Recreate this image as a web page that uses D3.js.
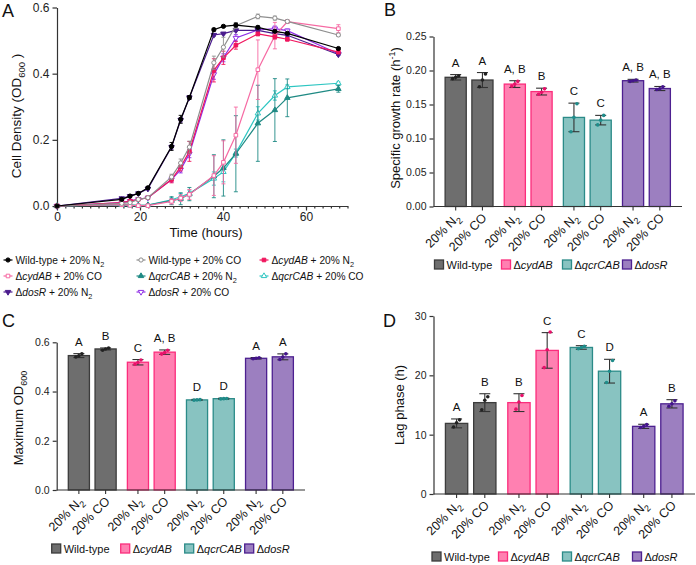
<!DOCTYPE html>
<html>
<head>
<meta charset="utf-8">
<script src="https://cdn.jsdelivr.net/npm/d3@7"></script>
<style>
    body { margin: 0; background: #fff; }
    svg { font-family: "Liberation Sans", Arial, sans-serif; }
    .axis path, .axis line { stroke: #333; stroke-width: 1.2; }
    .axis text { fill: #222; }
</style>
</head>
<body>
<div id="chart"></div>
<script>
    // ---- panel A: growth curves ----
    var times = [0, 15.6, 17.6, 19.6, 21.9, 27.6, 29.8, 31.9, 37.8, 40.1, 43.1, 48.4, 52.5, 55.5, 67.8];

    var wtN2 = [0, 0.020, 0.030, 0.038, 0.055, 0.180, 0.262, 0.328, 0.533, 0.543, 0.547, 0.540, 0.528, 0.522, 0.476];
    var wtN2Err = [0, 0.003, 0.003, 0.003, 0.004, 0.012, 0.012, 0.006, 0.004, 0.003, 0.006, 0.004, 0.003, 0.003, 0.003];
    var wtCO = [0, 0.008, 0.010, 0.020, 0.025, 0.088, 0.130, 0.178, 0.433, 0.480, 0.545, 0.573, 0.568, 0.558, 0.517];
    var wtCOErr = [0, 0.002, 0.002, 0.003, 0.003, 0.008, 0.012, 0.018, 0.020, 0.030, 0.008, 0.007, 0.006, 0.004, 0.004];
    var cydN2 = [0, 0.010, 0.015, 0.020, 0.025, 0.080, 0.118, 0.165, 0.410, 0.448, 0.486, 0.520, 0.511, 0.504, 0.465];
    var cydN2Err = [0, 0.003, 0.003, 0.003, 0.003, 0.010, 0.012, 0.030, 0.035, 0.020, 0.012, 0.005, 0.006, 0.005, 0.004];
    var cydCO = [0, 0.004, 0.002, 0.001, 0.001, 0.014, 0.024, 0.035, 0.092, 0.132, 0.214, 0.412, 0.515, 0.557, 0.536];
    var cydCOErr = [0, 0.002, 0.002, 0.002, 0.002, 0.008, 0.010, 0.015, 0.060, 0.065, 0.085, 0.090, 0.040, 0.005, 0.012];
    var qcrN2 = [0, 0.004, 0.003, 0.002, 0.003, 0.016, 0.022, 0.036, 0.090, 0.115, 0.158, 0.250, 0.290, 0.327, 0.354];
    var qcrN2Err = [0, 0.002, 0.002, 0.002, 0.002, 0.012, 0.018, 0.020, 0.065, 0.085, 0.115, 0.115, 0.095, 0.057, 0.010];
    var qcrCO = [0, 0.003, 0.002, 0.002, 0.003, 0.019, 0.028, 0.038, 0.083, 0.103, 0.160, 0.280, 0.334, 0.360, 0.371];
    var qcrCOErr = [0, 0.002, 0.002, 0.002, 0.002, 0.006, 0.010, 0.010, 0.020, 0.030, 0.012, 0.020, 0.014, 0.006, 0.004];
    var dosN2 = [0, 0.023, 0.030, 0.038, 0.052, 0.178, 0.260, 0.328, 0.517, 0.521, 0.531, 0.531, 0.521, 0.516, 0.458];
    var dosN2Err = [0, 0.002, 0.002, 0.002, 0.003, 0.006, 0.006, 0.005, 0.004, 0.003, 0.004, 0.004, 0.004, 0.003, 0.003];
    var dosCO = [0, 0.010, 0.015, 0.020, 0.025, 0.080, 0.110, 0.158, 0.398, 0.448, 0.508, 0.532, 0.536, 0.530, 0.460];
    var dosCOErr = [0, 0.002, 0.002, 0.002, 0.003, 0.008, 0.010, 0.012, 0.015, 0.012, 0.010, 0.006, 0.008, 0.005, 0.004];

    var xTicksA = [0, 20, 40, 60];
    var yTicksA = [0, 0.2, 0.4, 0.6];

    // ---- panels B, C, D: bar charts ----
    var strains = ["Wild-type", "cydAB", "qcrCAB", "dosR"];
    var gases = ["N2", "CO"];

    // order: WT N2, WT CO, cyd N2, cyd CO, qcr N2, qcr CO, dos N2, dos CO
    var growthRate = [0.190, 0.186, 0.180, 0.169, 0.131, 0.127, 0.185, 0.1735];
    var growthRateSd = [0.004, 0.011, 0.005, 0.005, 0.021, 0.007, 0.002, 0.003];
    var growthRateReps = [[0.188, 0.190, 0.192], [0.176, 0.186, 0.195], [0.177, 0.180, 0.184], [0.165, 0.168, 0.173],
        [0.110, 0.131, 0.151], [0.120, 0.127, 0.134], [0.184, 0.185, 0.186], [0.172, 0.173, 0.176]];
    var growthRateLetters = ["A", "A", "A, B", "B", "C", "C", "A, B", "A, B"];
    var growthRateTicks = [0, 0.05, 0.10, 0.15, 0.20, 0.25];

    var maxOD = [0.546, 0.573, 0.519, 0.560, 0.366, 0.371, 0.535, 0.541];
    var maxODSd = [0.008, 0.004, 0.011, 0.009, 0.002, 0.002, 0.003, 0.012];
    var maxODReps = [[0.540, 0.545, 0.553], [0.568, 0.573, 0.577], [0.511, 0.518, 0.528], [0.552, 0.558, 0.568],
        [0.365, 0.366, 0.367], [0.370, 0.371, 0.372], [0.533, 0.535, 0.537], [0.530, 0.540, 0.553]];
    var maxODLetters = ["A", "B", "C", "A, B", "D", "D", "A", "A"];
    var maxODTicks = [0, 0.2, 0.4, 0.6];

    var lagPhase = [11.9, 15.4, 15.4, 24.2, 24.7, 20.7, 11.4, 15.2];
    var lagPhaseSd = [0.75, 1.5, 1.5, 3.0, 0.3, 2.0, 0.35, 0.7];
    var lagPhaseReps = [[11.3, 12.0, 12.5], [14.2, 15.8, 16.4], [14.3, 15.5, 16.6], [21.3, 24.3, 27.3],
        [24.5, 24.7, 24.9], [18.8, 20.7, 22.5], [11.2, 11.4, 11.7], [14.8, 15.2, 15.7]];
    var lagPhaseLetters = ["A", "B", "B", "C", "C", "D", "A", "B"];
    var lagPhaseTicks = [0, 10, 20, 30];

    // ---- styles ----
    var barFill = ["#6e6e6e", "#ff80b1", "#88c3c1", "#9c7fc0"];
    var barStroke = ["#3c3c3c", "#fb2d7c", "#2b8b88", "#4d2090"];
    var dotColor = ["#222", "#e8106a", "#1f8c8a", "#44148c"];

    var lineSeries = [
        {strain: 0, gas: 0, y: wtN2, e: wtN2Err, color: "#000000", shape: "circle", open: false},
        {strain: 0, gas: 1, y: wtCO, e: wtCOErr, color: "#8e8e8e", shape: "circle", open: true},
        {strain: 1, gas: 0, y: cydN2, e: cydN2Err, color: "#f0165e", shape: "square", open: false},
        {strain: 1, gas: 1, y: cydCO, e: cydCOErr, color: "#f66aa3", shape: "square", open: true},
        {strain: 2, gas: 0, y: qcrN2, e: qcrN2Err, color: "#1f8a84", shape: "triangle", open: false},
        {strain: 2, gas: 1, y: qcrCO, e: qcrCOErr, color: "#2ec6c2", shape: "triangle", open: true},
        {strain: 3, gas: 0, y: dosN2, e: dosN2Err, color: "#4b1c8e", shape: "tridown", open: false},
        {strain: 3, gas: 1, y: dosCO, e: dosCOErr, color: "#8f2ee6", shape: "tridown", open: true}
    ];

    var w = 696, h = 565;
    var svg = d3.select("#chart").append("svg").attr("width", w).attr("height", h);

    function panelLabel(t, x, y) {
        svg.append("text").attr("x", x).attr("y", y).attr("font-size", 18).attr("fill", "#111").text(t);
    }

    // writes "Δname" with italic name, or plain label for wild-type
    function strainText(sel, i) {
        if (i === 0) {
            sel.append("tspan").text(strains[0]);
        } else {
            sel.append("tspan").text("\u0394");
            sel.append("tspan").attr("font-style", "italic").text(strains[i]);
        }
    }

    function gasText(sel, g, size) {
        if (gases[g] === "N2") {
            sel.append("tspan").text("20% N");
            sel.append("tspan").attr("dy", size * 0.3).attr("font-size", size * 0.72).text("2");
        } else {
            sel.append("tspan").text("20% CO");
        }
    }

    function markerPath(shape) {
        var s = d3.symbolCircle;
        if (shape === "square") s = d3.symbolSquare;
        if (shape === "triangle" || shape === "tridown") s = d3.symbolTriangle;
        return d3.symbol().type(s).size(shape === "circle" ? 14 : 13)();
    }

    function drawMarker(g, x, y, d) {
        g.append("path")
            .attr("d", markerPath(d.shape))
            .attr("transform", "translate(" + x + "," + y + ")" + (d.shape === "tridown" ? " rotate(180)" : ""))
            .attr("fill", d.open ? "#fff" : d.color)
            .attr("stroke", d.color)
            .attr("stroke-width", 1);
    }

    // ================= Panel A =================
    panelLabel("A", 2, 17);

    var xA = d3.scaleLinear().domain([0, 70]).range([57, 347.5]);
    var yA = d3.scaleLinear().domain([0, 0.6]).range([206, 7.5]);

    svg.append("g").attr("class", "axis")
        .attr("transform", "translate(0," + yA(0) + ")")
        .call(d3.axisBottom(xA).tickValues(d3.range(0, 71, 2)).tickSize(2.5).tickSizeOuter(0).tickFormat(""));
    svg.append("g").attr("class", "axis")
        .attr("transform", "translate(0," + yA(0) + ")")
        .call(d3.axisBottom(xA).tickValues(xTicksA).tickSize(4.5).tickSizeOuter(0).tickPadding(2))
        .selectAll("text").attr("font-size", 12);
    svg.append("g").attr("class", "axis")
        .attr("transform", "translate(" + xA(0) + ",0)")
        .call(d3.axisLeft(yA).tickValues(yTicksA).tickSize(4.5).tickSizeOuter(0).tickFormat(d3.format(".1f")))
        .selectAll("text").attr("font-size", 12);

    svg.append("text").attr("x", 206).attr("y", 237).attr("text-anchor", "middle")
        .attr("font-size", 13).attr("fill", "#111").text("Time (hours)");

    var yTitleA = svg.append("text").attr("transform", "translate(21,116) rotate(-90)")
        .attr("text-anchor", "middle").attr("font-size", 13.5).attr("fill", "#111");
    yTitleA.append("tspan").text("Cell Density (OD");
    yTitleA.append("tspan").attr("dy", 4).attr("font-size", 9.5).text("600");
    yTitleA.append("tspan").attr("dy", -4).text(" )");

    var line = d3.line().x(function (d) { return xA(d[0]); }).y(function (d) { return yA(d[1]); });

    // draw in reverse so wild-type sits on top
    lineSeries.slice().reverse().forEach(function (s) {
        var pts = times.map(function (t, i) { return [t, s.y[i], s.e[i]]; });
        var g = svg.append("g");
        // error bars
        pts.forEach(function (p) {
            if (p[2] <= 0) return;
            var x = xA(p[0]), y0 = yA(p[1] - p[2]), y1 = yA(p[1] + p[2]);
            g.append("line").attr("x1", x).attr("x2", x).attr("y1", y0).attr("y2", y1)
                .attr("stroke", s.color).attr("stroke-width", 0.9);
            [y0, y1].forEach(function (yy) {
                g.append("line").attr("x1", x - 2).attr("x2", x + 2).attr("y1", yy).attr("y2", yy)
                    .attr("stroke", s.color).attr("stroke-width", 0.9);
            });
        });
        g.append("path").datum(pts).attr("d", line).attr("fill", "none")
            .attr("stroke", s.color).attr("stroke-width", 1.2);
        pts.forEach(function (p) { drawMarker(g, xA(p[0]), yA(p[1]), s); });
    });

    // legend A
    var legColsA = [8, 141, 264];
    var legRowsA = [260, 276, 292];
    lineSeries.forEach(function (s, i) {
        var cx = legColsA[i % 3], cy = legRowsA[Math.floor(i / 3)];
        var g = svg.append("g");
        g.append("line").attr("x1", cx - 4.5).attr("x2", cx + 4.5).attr("y1", cy).attr("y2", cy)
            .attr("stroke", s.color).attr("stroke-width", 1.2);
        drawMarker(g, cx, cy, s);
        var t = g.append("text").attr("x", cx + 7.5).attr("y", cy + 4).attr("font-size", 10.2).attr("fill", "#111");
        strainText(t, s.strain);
        t.append("tspan").text(" + ");
        gasText(t, s.gas, 10.2);
    });

    // ================= Bar panels =================
    function barPanel(o) {
        var g = svg.append("g");
        var y = d3.scaleLinear().domain(o.domain).range([o.y0, o.y1]);
        var xg = d3.scaleBand().domain(d3.range(strains.length)).range([o.x0 + 6, o.x1 - 6]);
        var xi = d3.scaleBand().domain(d3.range(gases.length)).range([0, xg.bandwidth()])
            .paddingInner(0.21).paddingOuter(0.21);
        var bars = o.means.map(function (m, i) {
            var si = Math.floor(i / 2), gi = i % 2;
            return {i: i, s: si, gas: gi, m: m, sd: o.sds[i], reps: o.reps[i], letter: o.letters[i],
                x: xg(si) + xi(gi), w: xi.bandwidth()};
        });

        g.selectAll("rect.bar").data(bars).enter().append("rect")
            .attr("x", function (d) { return d.x; })
            .attr("y", function (d) { return y(d.m); })
            .attr("width", function (d) { return d.w; })
            .attr("height", function (d) { return o.y0 - y(d.m); })
            .attr("fill", function (d) { return barFill[d.s]; })
            .attr("stroke", function (d) { return barStroke[d.s]; })
            .attr("stroke-width", 1.3);

        bars.forEach(function (d) {
            var cx = d.x + d.w / 2;
            var top = y(d.m + d.sd), bot = y(d.m - d.sd);
            g.append("line").attr("x1", cx).attr("x2", cx).attr("y1", top).attr("y2", bot)
                .attr("stroke", "#333").attr("stroke-width", 1.1);
            [top, bot].forEach(function (yy) {
                g.append("line").attr("x1", cx - 5.5).attr("x2", cx + 5.5).attr("y1", yy).attr("y2", yy)
                    .attr("stroke", "#333").attr("stroke-width", 1.1);
            });
            d.reps.forEach(function (r, k) {
                g.append("circle").attr("cx", cx + (k - 1) * 3).attr("cy", y(r)).attr("r", 1.8)
                    .attr("fill", dotColor[d.s]);
            });
            g.append("text").attr("x", cx).attr("y", top - 8).attr("text-anchor", "middle")
                .attr("font-size", 11.5).attr("fill", "#111").text(d.letter);
            // x tick + rotated label
            g.append("line").attr("x1", cx).attr("x2", cx).attr("y1", o.y0).attr("y2", o.y0 + 4)
                .attr("stroke", "#333").attr("stroke-width", 1.1);
            var t = g.append("text").attr("text-anchor", "end").attr("font-size", 12.5).attr("fill", "#111")
                .attr("transform", "translate(" + (cx + 5) + "," + (o.y0 + 12) + ") rotate(-45)");
            gasText(t, d.gas, 12.5);
        });

        g.append("g").attr("class", "axis").attr("transform", "translate(" + o.x0 + ",0)")
            .call(d3.axisLeft(y).tickValues(o.ticks).tickSize(4).tickSizeOuter(0).tickFormat(d3.format(o.fmt)))
            .selectAll("text").attr("font-size", 10.5);
        g.append("line").attr("x1", o.x0).attr("x2", o.x1).attr("y1", o.y0).attr("y2", o.y0)
            .attr("stroke", "#333").attr("stroke-width", 1.2);

        var tt = g.append("text").attr("text-anchor", "middle").attr("font-size", 13).attr("fill", "#111")
            .attr("transform", "translate(" + o.titleX + "," + o.titleY + ") rotate(-90)");
        o.title(tt);

        // legend
        strains.forEach(function (s, i) {
            var lx = o.x0 + o.legOffsets[i];
            g.append("rect").attr("x", lx).attr("y", o.legY - 5).attr("width", 9).attr("height", 9)
                .attr("fill", barFill[i]).attr("stroke", barStroke[i]).attr("stroke-width", 1.3);
            var t = g.append("text").attr("x", lx + 12).attr("y", o.legY + 4)
                .attr("font-size", 11).attr("fill", "#111");
            strainText(t, i);
        });
    }

    // Panel B
    panelLabel("B", 384, 16);
    barPanel({
        x0: 433.5, x1: 682, y0: 206.5, y1: 36.5, domain: [0, 0.25], ticks: growthRateTicks, fmt: ".2f",
        means: growthRate, sds: growthRateSd, reps: growthRateReps, letters: growthRateLetters,
        titleX: 400, titleY: 118, legY: 265, legOffsets: [1, 68, 129, 189],
        title: function (t) {
            t.append("tspan").text("Specific growth rate (h");
            t.append("tspan").attr("dy", -5).attr("font-size", 9).text("-1");
            t.append("tspan").attr("dy", 5).text(")");
        }
    });

    // Panel C
    panelLabel("C", 2, 327);
    barPanel({
        x0: 56.7, x1: 305, y0: 490, y1: 342.3, domain: [0, 0.6], ticks: maxODTicks, fmt: ".1f",
        means: maxOD, sds: maxODSd, reps: maxODReps, letters: maxODLetters,
        titleX: 23, titleY: 418, legY: 549, legOffsets: [-5, 64, 128, 188],
        title: function (t) {
            t.append("tspan").text("Maximum OD");
            t.append("tspan").attr("dy", 4).attr("font-size", 9).text("600");
        }
    });

    // Panel D
    panelLabel("D", 383, 327);
    barPanel({
        x0: 433.5, x1: 695, y0: 494, y1: 316, domain: [0, 30], ticks: lagPhaseTicks, fmt: "d",
        means: lagPhase, sds: lagPhaseSd, reps: lagPhaseReps, letters: lagPhaseLetters,
        titleX: 404, titleY: 405, legY: 557, legOffsets: [-1.5, 65, 129, 199],
        title: function (t) { t.text("Lag phase (h)"); }
    });
</script>
</body>
</html>
